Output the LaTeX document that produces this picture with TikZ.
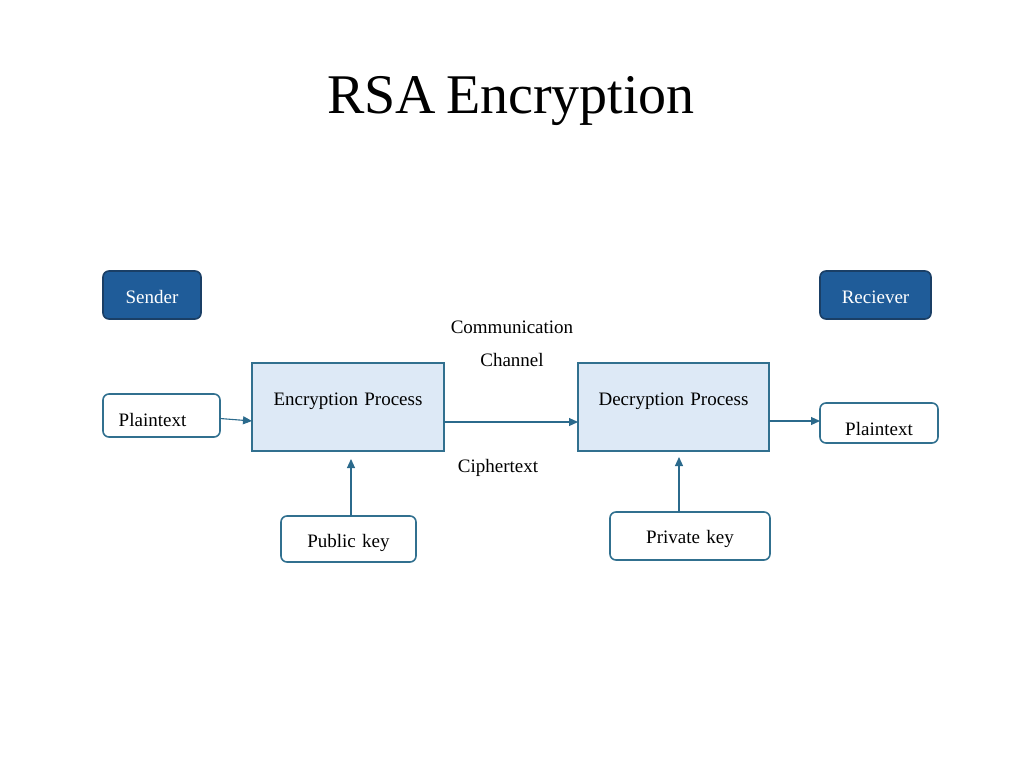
\documentclass[tikz,border=0pt]{standalone}
\usepackage{fontspec}
\setmainfont{Liberation Serif}
\usetikzlibrary{calc,arrows.meta}
\definecolor{darkfill}{HTML}{1F5C99}
\definecolor{darkedge}{HTML}{1A3F66}
\definecolor{edge}{HTML}{31708F}
\definecolor{procfill}{HTML}{DDE9F6}
\definecolor{arrcol}{HTML}{2B6A8C}
\newcommand\smallsp{\spaceskip=4pt\relax}
\newcommand\bigsp{\spaceskip=10pt\relax}
\tikzset{
  every node/.style={inner sep=0pt, outer sep=0pt, font={\fontsize{19}{22}\selectfont\smallsp}},
  rolebox/.style={draw=darkedge, fill=darkfill, line width=1.6pt, rounded corners=6pt, text=white, align=center},
  keybox/.style={draw=edge, fill=white, line width=1.6pt, rounded corners=6pt, align=center},
  procbox/.style={draw=edge, fill=procfill, line width=1.8pt, align=center},
  lbl/.style={anchor=base},
  arr/.style={draw=arrcol, line width=1.1pt, -{Triangle[length=9pt,width=8pt]}}
}
\begin{document}
\begin{tikzpicture}[x=1pt,y=-1pt]
\useasboundingbox (0,0) rectangle (1024,768);
\node[anchor=base, font={\fontsize{56}{60}\selectfont\bigsp}] (title) at (511,113) {RSA Encryption};
% role boxes
\node[rolebox, anchor=north west, text width=98pt, text height=32pt, text depth=16pt] (sender) at (103,271) {Sender};
\node[rolebox, anchor=north west, text width=111pt, text height=32pt, text depth=16pt] (recv) at (820,271) {Reciever};
% plaintext boxes
\node[keybox, anchor=north west, text width=117pt, text height=32pt, text depth=11pt] (pt1) at (103,394) {\hspace*{-18pt}Plaintext};
\node[keybox, anchor=north west, text width=118pt, text height=32pt, text depth=8pt] (pt2) at (820,403) {Plaintext};
% process boxes
\node[procbox, anchor=north west, text width=192pt, text height=42pt, text depth=46pt] (enc) at (252,363) {Encryption Process};
\node[procbox, anchor=north west, text width=191pt, text height=42pt, text depth=46pt] (dec) at (578,363) {Decryption Process};
% key boxes
\node[keybox, anchor=north west, text width=135pt, text height=31pt, text depth=15pt] (pub) at (281,516) {Public key};
\node[keybox, anchor=north west, text width=160pt, text height=31pt, text depth=17pt] (priv) at (610,512) {Private key};
% labels
\node[lbl] (comm) at (512,333) {Communication};
\node[lbl] (chan) at (512,366) {Channel};
\node[lbl] (ciph) at (498,472) {Ciphertext};
% arrows
\draw[arr] ($(pt1.east)+(0,3)$) -- ($(enc.west)+(0,14)$);
\draw[arr] ($(enc.east)+(0,15)$) -- ($(dec.west)+(0,15)$);
\draw[arr] ($(dec.east)+(0,14)$) -- ($(pt2.west)+(0,-2)$);
\coordinate (pa) at ($(pub.north)+(2.5,0)$);
\coordinate (qa) at ($(priv.north)+(-11,0)$);
\draw[arr, shorten >=8pt] (pa) -- (pa |- enc.south);
\draw[arr, shorten >=6pt] (qa) -- (qa |- dec.south);
\end{tikzpicture}
\end{document}
